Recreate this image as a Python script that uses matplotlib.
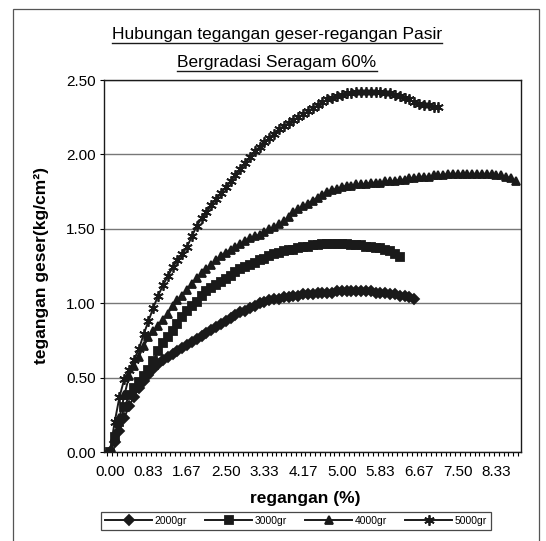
import numpy as np
import matplotlib
matplotlib.use('Agg')
import matplotlib.pyplot as plt
from matplotlib.lines import Line2D
from matplotlib.patches import Rectangle

plt.rcParams['font.family'] = ['Liberation Sans', 'DejaVu Sans']

title_lines = ['Hubungan tegangan geser-regangan Pasir', 'Bergradasi Seragam 60%']
x_label = 'regangan (%)'
y_label = 'tegangan geser(kg/cm²)'

# category labels shown on the x axis, one every 8 readings
strain_labels = ['0.00', '0.83', '1.67', '2.50', '3.33', '4.17',
                 '5.00', '5.83', '6.67', '7.50', '8.33']
label_every = 8

y_ticks = [0.00, 0.50, 1.00, 1.50, 2.00, 2.50]

# shear stress readings (kg/cm2), one per strain step
s2000 = [0.00, 0.07, 0.14, 0.23, 0.31, 0.37, 0.43, 0.48, 0.52, 0.56,
         0.59, 0.62, 0.64, 0.66, 0.68, 0.70, 0.72, 0.74, 0.76, 0.78,
         0.80, 0.82, 0.84, 0.86, 0.88, 0.90, 0.92, 0.94, 0.95, 0.97,
         0.98, 1.00, 1.01, 1.02, 1.03, 1.03, 1.04, 1.04, 1.05, 1.05,
         1.06, 1.06, 1.06, 1.07, 1.07, 1.07, 1.07, 1.08, 1.08, 1.08,
         1.08, 1.08, 1.08, 1.08, 1.08, 1.07, 1.07, 1.07, 1.06, 1.06,
         1.05, 1.05, 1.04, 1.03]

s3000 = [0.00, 0.10, 0.20, 0.30, 0.38, 0.43, 0.47, 0.51, 0.55, 0.61,
         0.68, 0.73, 0.77, 0.81, 0.86, 0.91, 0.95, 0.98, 1.01, 1.05,
         1.08, 1.10, 1.12, 1.14, 1.16, 1.18, 1.21, 1.23, 1.24, 1.26,
         1.27, 1.29, 1.30, 1.32, 1.33, 1.34, 1.35, 1.36, 1.36, 1.37,
         1.38, 1.38, 1.39, 1.39, 1.40, 1.40, 1.40, 1.40, 1.40, 1.40,
         1.39, 1.39, 1.39, 1.38, 1.38, 1.37, 1.37, 1.36, 1.35, 1.33,
         1.31]

s4000 = [0.00, 0.10, 0.23, 0.38, 0.51, 0.58, 0.64, 0.71, 0.77, 0.81,
         0.85, 0.89, 0.93, 0.98, 1.02, 1.05, 1.09, 1.13, 1.17, 1.20,
         1.23, 1.26, 1.29, 1.32, 1.34, 1.36, 1.38, 1.40, 1.42, 1.44,
         1.45, 1.46, 1.48, 1.50, 1.51, 1.53, 1.55, 1.58, 1.61, 1.63,
         1.65, 1.67, 1.69, 1.71, 1.73, 1.75, 1.76, 1.77, 1.78, 1.79,
         1.79, 1.80, 1.80, 1.80, 1.81, 1.81, 1.81, 1.82, 1.82, 1.82,
         1.83, 1.83, 1.84, 1.84, 1.85, 1.85, 1.85, 1.86, 1.86, 1.86,
         1.87, 1.87, 1.87, 1.87, 1.87, 1.87, 1.87, 1.87, 1.87, 1.87,
         1.86, 1.86, 1.85, 1.84, 1.82]

s5000 = [0.00, 0.20, 0.37, 0.49, 0.55, 0.62, 0.69, 0.79, 0.88, 0.97,
         1.05, 1.12, 1.18, 1.24, 1.29, 1.33, 1.38, 1.45, 1.52, 1.57,
         1.61, 1.66, 1.70, 1.74, 1.78, 1.82, 1.86, 1.90, 1.94, 1.98,
         2.02, 2.05, 2.08, 2.11, 2.14, 2.17, 2.19, 2.21, 2.23, 2.25,
         2.27, 2.29, 2.31, 2.33, 2.35, 2.37, 2.38, 2.39, 2.40, 2.41,
         2.41, 2.42, 2.42, 2.42, 2.42, 2.42, 2.42, 2.41, 2.41, 2.40,
         2.39, 2.38, 2.37, 2.35, 2.34, 2.33, 2.33, 2.32, 2.32]

series = [
    ('2000gr', s2000, 'D', 4.8),
    ('3000gr', s3000, 's', 5.2),
    ('4000gr', s4000, '^', 5.8),
    ('5000gr', s5000, (6, 2, 0), 7.5),
]

W, H = 546, 541
fig = plt.figure(figsize=(W / 100, H / 100), dpi=100)

# outer chart frame (Excel chart area)
fig.patches.append(Rectangle((13 / W, -0.02), (539 - 13) / W, 1 - 9 / H + 0.02,
                             transform=fig.transFigure, fill=False,
                             edgecolor='#555555', linewidth=0.9))

left, right, top, bottom = 104, 520.5, 80, 452
ax = fig.add_axes([left / W, 1 - bottom / H, (right - left) / W, (bottom - top) / H])

ink = '#1a1a1a'
for name, vals, mk, ms in series:
    cats = np.arange(len(vals))
    ax.plot(cats, vals, color=ink, linewidth=1.4, marker=mk, markersize=ms,
            markeredgewidth=1.3, markerfacecolor=ink, markeredgecolor=ink,
            label=name)

ax.set_xlim(-1.2, 85.0)
ax.set_ylim(0, 2.5)

ax.set_xticks(np.arange(len(strain_labels)) * label_every)
ax.set_xticklabels(strain_labels, fontsize=11)
ax.set_xticks(np.arange(-0.5, 85, 1), minor=True)
ax.tick_params(axis='x', which='major', length=0, pad=9)
ax.tick_params(axis='x', which='minor', length=3, direction='out', width=0.8)

ax.set_yticks(y_ticks)
ax.set_yticklabels([f'{v:.2f}' for v in y_ticks], fontsize=11)
ax.tick_params(axis='y', length=3, direction='out', width=0.8, pad=3)

ax.yaxis.grid(True, color='#777777', linewidth=1.0)
ax.set_axisbelow(True)
for sp in ax.spines.values():
    sp.set_color(ink)
    sp.set_linewidth(1.0)

fig.text(42 / W, 1 - 266 / H, y_label, rotation=90, ha='center', va='center',
         fontsize=12.5, fontweight='bold')
fig.text(305 / W, 1 - 499 / H, x_label, ha='center', va='center',
         fontsize=12.5, fontweight='bold')

# two-line underlined title
title_texts = []
for txt, yp in zip(title_lines, [34, 62]):
    t = fig.text(277 / W, 1 - yp / H, txt, ha='center', va='center', fontsize=12.5)
    title_texts.append(t)

leg = fig.legend(loc='center', bbox_to_anchor=(296 / W, 1 - 521 / H), ncol=4,
                 fontsize=7.5, frameon=True, fancybox=False, handlelength=4.5,
                 handletextpad=0.2, columnspacing=1.8, borderpad=0.4)
leg.get_frame().set_edgecolor(ink)
leg.get_frame().set_linewidth(0.9)

fig.canvas.draw()
renderer = fig.canvas.get_renderer()
inv = fig.transFigure.inverted()
for t in title_texts:
    bb = t.get_window_extent(renderer)
    (x0, y0), (x1, _) = inv.transform([(bb.x0, bb.y0), (bb.x1, bb.y1)])
    fig.add_artist(Line2D([x0, x1], [y0 - 1 / H, y0 - 1 / H], transform=fig.transFigure,
                          color=ink, linewidth=1.0))

fig.savefig('out.png', dpi=100)
